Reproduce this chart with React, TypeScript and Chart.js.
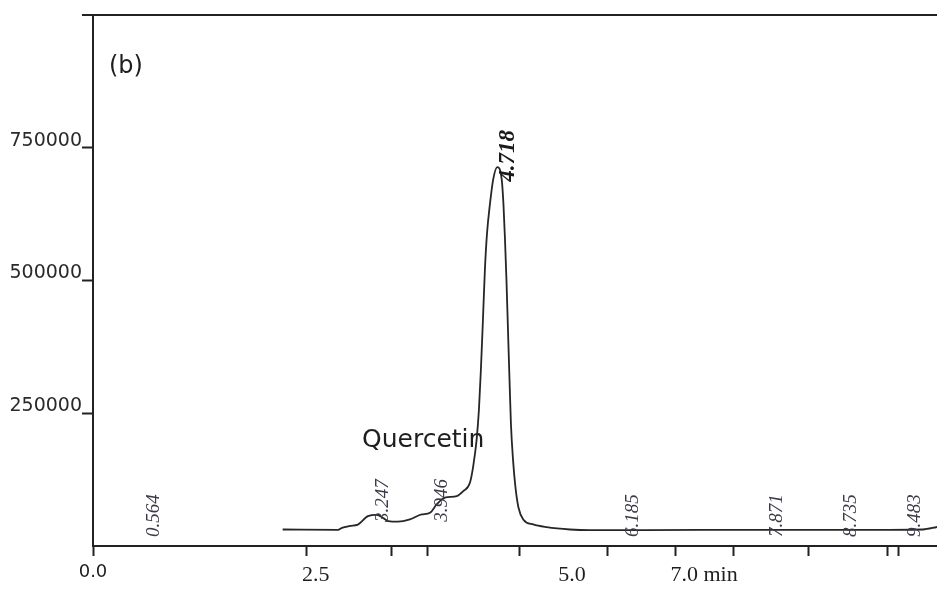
import React, { useEffect, useRef } from "react";
import { Chart, registerables } from "chart.js";

Chart.register(...registerables);

// Chromatogram trace: retention time (min) vs detector response
const retentionTimes = [
  2.073, 2.721, 2.768, 2.862, 2.955, 3.073, 3.175, 3.233, 3.311, 3.424, 3.565,
  3.702, 3.8, 3.878, 3.975, 4.113, 4.19, 4.268, 4.307, 4.347, 4.374, 4.397,
  4.421, 4.444, 4.468, 4.503, 4.542, 4.589, 4.64, 4.661, 4.679, 4.696, 4.714,
  4.732, 4.749, 4.773, 4.802, 4.837, 4.893, 5.011, 5.168, 5.441, 5.675, 6.965,
  8.841, 9.579, 9.743,
];
const signal = [
  31100, 30200, 34300, 37700, 40200, 56200, 58500, 54700, 46800, 45800, 50000,
  59400, 62600, 78300, 90900, 94000, 103400, 119200, 150600, 200900, 257500,
  333000, 427400, 521700, 587700, 644300, 691500, 713600, 691500, 644300,
  578300, 502800, 408500, 314200, 229200, 163200, 110400, 72600, 50000, 40600,
  35500, 31100, 29800, 30200, 30200, 31100, 35800,
];

// Peak annotations
const peakTimes = [0.564, 3.247, 3.946, 4.718, 6.185, 7.871, 8.735, 9.483];
const peakLabels = ["0.564", "3.247", "3.946", "4.718", "6.185", "7.871", "8.735", "9.483"];
const peakLabelHeights = [30000, 58500, 59000, 699000, 30000, 30000, 30000, 30000];
const mainPeak = "4.718";

// Axis ticks
const xMin = -0.15;
const xMax = 9.743;
const xTickMarks = [-0.15, 2.358, 3.354, 3.776, 4.855, 5.886, 6.683, 7.363, 8.231, 9.157, 9.286];
const xTickLabelValues = [-0.15, 2.462, 5.464, 7.013];
const xTickLabels = ["0.0", "2.5", "5.0", "7.0 min"];
const yTicks = [250000, 500000, 750000];
const yMin = 0;
const yMax = 1000000;

const INK = "#222222";

const annotPlugin = {
  id: "annot",
  beforeDatasetsDraw(chart: any) {
    const ctx = chart.ctx;
    ctx.save();
    ctx.fillStyle = "#1e1e1e";
    ctx.font = "24px 'DejaVu Sans'";
    ctx.textAlign = "left";
    ctx.textBaseline = "alphabetic";
    ctx.fillText("(b)", 109, 73);
    ctx.font = "25px 'DejaVu Sans'";
    ctx.fillText("Quercetin", 362, 447);
    ctx.restore();
  },
  afterDatasetsDraw(chart: any) {
    const ctx = chart.ctx;
    const xs = chart.scales.x;
    const ys = chart.scales.y;
    ctx.save();
    peakTimes.forEach((t, i) => {
      const px = xs.getPixelForValue(t);
      const py = ys.getPixelForValue(peakLabelHeights[i]) + 7;
      const label = peakLabels[i];
      const main = label === mainPeak;
      ctx.save();
      ctx.translate(px, py);
      ctx.rotate(-Math.PI / 2);
      ctx.fillStyle = main ? "#1a1a1a" : "#3a3a48";
      ctx.font = main
        ? "italic bold 23px 'Liberation Serif'"
        : "italic 19px 'Liberation Serif'";
      ctx.textAlign = "left";
      ctx.textBaseline = "middle";
      ctx.fillText(label, 0, 0);
      ctx.restore();
    });
    // top frame line
    const area = chart.chartArea;
    ctx.strokeStyle = INK;
    ctx.lineWidth = 2;
    ctx.beginPath();
    ctx.moveTo(area.left - 11, area.top);
    ctx.lineTo(area.right, area.top);
    ctx.stroke();
    ctx.restore();
  },
};

export default function App() {
  const ref = useRef<HTMLCanvasElement | null>(null);

  useEffect(() => {
    if (!ref.current) return;
    const data = retentionTimes.map((t, i) => ({ x: t, y: signal[i] }));
    const markSet = new Set(xTickMarks);
    const chart = new Chart(ref.current, {
      type: "line",
      data: {
        datasets: [
          {
            data,
            borderColor: "#262626",
            borderWidth: 1.8,
            pointRadius: 0,
            cubicInterpolationMode: "monotone",
            fill: false,
          },
        ],
      },
      options: {
        animation: false,
        responsive: false,
        devicePixelRatio: 1,
        layout: { padding: { top: 15, right: 0, left: 0, bottom: 0 } },
        plugins: { legend: { display: false }, tooltip: { enabled: false } },
        scales: {
          x: {
            type: "linear",
            min: xMin,
            max: xMax,
            afterBuildTicks: (scale: any) => {
              const vals = Array.from(new Set([...xTickMarks, ...xTickLabelValues])).sort(
                (a, b) => a - b
              );
              scale.ticks = vals.map((v) => ({ value: v }));
            },
            afterFit: (scale: any) => {
              scale.height = 44;
            },
            grid: {
              drawOnChartArea: false,
              drawTicks: true,
              tickLength: 10,
              tickWidth: 2,
              tickColor: (ctx: any) =>
                ctx.tick && markSet.has(ctx.tick.value) ? INK : "rgba(0,0,0,0)",
            },
            border: { display: true, color: INK, width: 2 },
            ticks: {
              autoSkip: false,
              maxRotation: 0,
              minRotation: 0,
              padding: 6,
              color: "#1e1e1e",
              font: (ctx: any) =>
                ctx.tick && ctx.tick.value === xTickLabelValues[0]
                  ? { family: "'DejaVu Sans'", size: 18 }
                  : { family: "'Liberation Serif'", size: 22 },
              callback: (value: any) => {
                const idx = xTickLabelValues.indexOf(Number(value));
                return idx >= 0 ? xTickLabels[idx] : "";
              },
            },
          },
          y: {
            type: "linear",
            min: yMin,
            max: yMax,
            afterBuildTicks: (scale: any) => {
              scale.ticks = yTicks.map((v) => ({ value: v }));
            },
            afterFit: (scale: any) => {
              scale.width = 93;
            },
            grid: {
              drawOnChartArea: false,
              drawTicks: true,
              tickLength: 11,
              tickWidth: 2,
              tickColor: INK,
            },
            border: { display: true, color: INK, width: 2 },
            ticks: {
              padding: 0,
              labelOffset: -7,
              color: "#2a2a2a",
              font: { family: "'DejaVu Sans'", size: 19 },
              callback: (value: any) => String(value),
            },
          },
        },
      },
      plugins: [annotPlugin],
    } as any);
    return () => chart.destroy();
  }, []);

  return (
    <div style={{ position: "fixed", left: 0, top: 0, width: 937, height: 590, background: "#fff" }}>
      <canvas ref={ref} width={937} height={590} />
    </div>
  );
}
